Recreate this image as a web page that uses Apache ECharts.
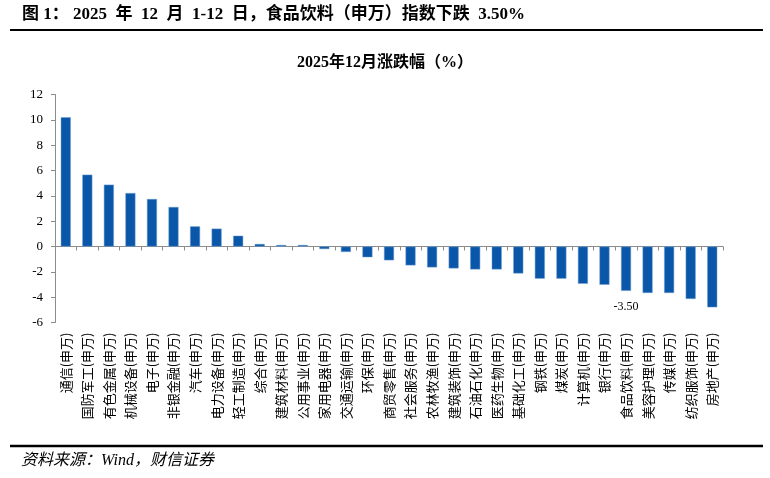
<!DOCTYPE html>
<html>
<head>
<meta charset="utf-8">
<script src="https://cdn.jsdelivr.net/npm/echarts@6/dist/echarts.min.js"></script>
<style>
html,body{margin:0;padding:0;background:#fff;}
#main{width:770px;height:478px;}
</style>
</head>
<body>
<div id="main"></div>
<script>
const categories = ['通信(申万)','国防军工(申万)','有色金属(申万)','机械设备(申万)','电子(申万)','非银金融(申万)','汽车(申万)','电力设备(申万)','轻工制造(申万)','综合(申万)','建筑材料(申万)','公用事业(申万)','家用电器(申万)','交通运输(申万)','环保(申万)','商贸零售(申万)','社会服务(申万)','农林牧渔(申万)','建筑装饰(申万)','石油石化(申万)','医药生物(申万)','基础化工(申万)','钢铁(申万)','煤炭(申万)','计算机(申万)','银行(申万)','食品饮料(申万)','美容护理(申万)','传媒(申万)','纺织服饰(申万)','房地产(申万)'];
const values = [10.2,5.67,4.88,4.22,3.75,3.12,1.59,1.41,0.85,0.2,0.12,0.12,-0.2,-0.43,-0.85,-1.09,-1.49,-1.65,-1.73,-1.81,-1.81,-2.13,-2.54,-2.54,-2.94,-3.02,-3.50,-3.67,-3.67,-4.14,-4.80];
const highlightCategory = '食品饮料(申万)';
const yTicks = {min: -6, max: 12, interval: 2};

const serif = '"Liberation Serif", "Times New Roman", "Noto Sans CJK SC", serif';
const cjk = '"Noto Sans CJK SC", sans-serif';

const seriesData = values.map((v, i) => {
  if (categories[i] === highlightCategory) {
    return {value: v, label: {show: true, position: 'bottom', distance: 10, formatter: p => p.value.toFixed(2), color: '#000', fontFamily: serif, fontSize: 12}};
  }
  return v;
});

const chart = echarts.init(document.getElementById('main'), null, {renderer: 'canvas'});
chart.setOption({
  animation: false,
  backgroundColor: '#fff',
  grid: {left: 55, right: 47, top: 94.5, bottom: 155.5, containLabel: false},
  graphic: [
    {type: 'text', left: 22, top: 6, style: {text: '图 1： 2025  年  12  月  1-12  日，食品饮料（申万）指数下跌  3.50%', font: 'bold 17px ' + serif, fill: '#000'}},
    {type: 'line', shape: {x1: 10, y1: 30, x2: 763, y2: 30}, style: {stroke: '#000', lineWidth: 2}},
    {type: 'text', left: 'center', top: 55, style: {text: '2025年12月涨跌幅（%）', font: 'bold 16px ' + serif, fill: '#000'}},
    {type: 'line', shape: {x1: 10, y1: 446, x2: 763, y2: 446}, style: {stroke: '#000', lineWidth: 2.5}},
    {type: 'text', left: 21, top: 453, style: {text: '资料来源：Wind，财信证券', font: 'italic 16px ' + serif, fill: '#000'}}
  ],
  xAxis: [
    {type: 'category', data: categories, position: 'bottom',
     axisLine: {show: false, onZero: false}, axisTick: {show: false},
     axisLabel: {rotate: 90, interval: 0, margin: 10, fontFamily: cjk, fontSize: 13, color: '#000'}},
    {type: 'category', data: categories, position: 'bottom',
     axisLine: {show: true, onZero: true, lineStyle: {color: '#8c8c8c', width: 1}},
     axisTick: {show: true, interval: 0, length: 4, lineStyle: {color: '#8c8c8c'}},
     axisLabel: {show: false, interval: 0}}
  ],
  yAxis: {type: 'value', min: yTicks.min, max: yTicks.max, interval: yTicks.interval,
    axisLine: {show: true, lineStyle: {color: '#8c8c8c', width: 1}},
    axisTick: {show: true, length: 4, lineStyle: {color: '#8c8c8c'}},
    splitLine: {show: false},
    axisLabel: {margin: 12, fontFamily: serif, fontSize: 13, color: '#000'}},
  series: [{
    type: 'bar', xAxisIndex: 0, data: seriesData, barWidth: 10,
    itemStyle: {color: '#0a56a8', borderColor: '#6f9fd2', borderWidth: 0.5}
  }]
});
</script>
</body>
</html>
